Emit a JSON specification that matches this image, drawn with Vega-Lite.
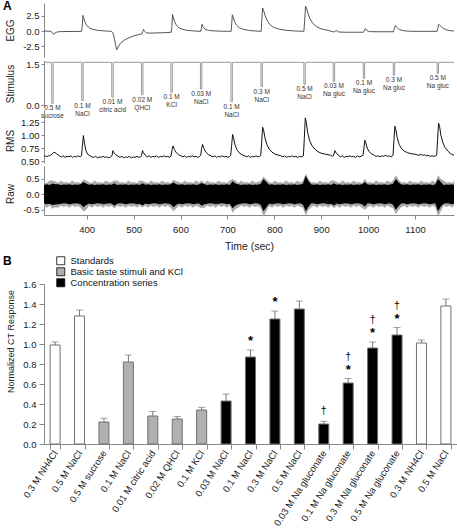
{
"$schema": "https://vega.github.io/schema/vega-lite/v6.json",
"background": "white",
"padding": {"left": 3, "top": 0, "right": 0, "bottom": 0},
"config": {
  "font": "Liberation Sans",
  "view": {"stroke": null},
  "axis": {"grid": false, "domainColor": "#888", "tickColor": "#888", "labelColor": "#222", "titleColor": "#222", "titleFontWeight": "normal", "labelFont": "Liberation Sans", "titleFont": "Liberation Sans"},
  "title": {"font": "Liberation Sans", "color": "#000"}
},
"datasets": {
  "egg": [{"t":309,"v":0},{"t":318,"v":-0.02},{"t":324,"v":-0.05},{"t":327,"v":-0.3},{"t":329,"v":-0.55},{"t":332,"v":-0.35},{"t":337,"v":-0.15},{"t":345,"v":-0.1},{"t":360,"v":-0.08},{"t":380,"v":-0.08},{"t":389,"v":-0.05},{"t":390.5,"v":0.8},{"t":392,"v":2.55},{"t":393.5,"v":2.2},{"t":396,"v":1.5},{"t":400,"v":0.9},{"t":406,"v":0.5},{"t":414,"v":0.25},{"t":425,"v":0.1},{"t":440,"v":0},{"t":453,"v":-0.05},{"t":456,"v":-0.3},{"t":459,"v":-1.2},{"t":462,"v":-2.4},{"t":464,"v":-3.05},{"t":467,"v":-2.6},{"t":472,"v":-2.0},{"t":480,"v":-1.5},{"t":490,"v":-1.1},{"t":500,"v":-0.8},{"t":510,"v":-0.6},{"t":518,"v":-0.45},{"t":519.5,"v":-0.1},{"t":521,"v":0.27},{"t":523,"v":0},{"t":527,"v":-0.3},{"t":535,"v":-0.35},{"t":550,"v":-0.3},{"t":565,"v":-0.28},{"t":580,"v":-0.2},{"t":581.5,"v":0.6},{"t":583,"v":2.7},{"t":584.5,"v":2.3},{"t":587,"v":1.6},{"t":591,"v":0.95},{"t":597,"v":0.5},{"t":605,"v":0.25},{"t":615,"v":0.1},{"t":630,"v":0},{"t":643,"v":-0.05},{"t":644.5,"v":0.4},{"t":646,"v":1.1},{"t":648,"v":0.7},{"t":652,"v":0.3},{"t":660,"v":0.1},{"t":675,"v":0},{"t":700,"v":-0.05},{"t":708,"v":-0.05},{"t":709,"v":1.0},{"t":710.5,"v":2.65},{"t":712,"v":2.3},{"t":715,"v":1.6},{"t":719,"v":1.0},{"t":725,"v":0.55},{"t":733,"v":0.3},{"t":745,"v":0.1},{"t":760,"v":0},{"t":772,"v":-0.05},{"t":773,"v":1.5},{"t":775,"v":3.75},{"t":777,"v":3.4},{"t":780,"v":2.6},{"t":784,"v":1.8},{"t":790,"v":1.1},{"t":798,"v":0.6},{"t":810,"v":0.3},{"t":825,"v":0.12},{"t":845,"v":0},{"t":863,"v":-0.05},{"t":864.5,"v":1.5},{"t":866.5,"v":4.07},{"t":868.5,"v":3.7},{"t":872,"v":2.8},{"t":876,"v":2.0},{"t":882,"v":1.25},{"t":890,"v":0.7},{"t":900,"v":0.35},{"t":915,"v":0.1},{"t":926,"v":-0.15},{"t":929,"v":-0.1},{"t":932,"v":0.1},{"t":936,"v":-0.15},{"t":950,"v":-0.2},{"t":975,"v":-0.2},{"t":990,"v":-0.2},{"t":991.5,"v":0.0},{"t":994,"v":0.4},{"t":997,"v":0.1},{"t":1003,"v":-0.1},{"t":1020,"v":-0.12},{"t":1040,"v":-0.12},{"t":1054,"v":-0.12},{"t":1055.5,"v":0.3},{"t":1058,"v":0.9},{"t":1061,"v":0.6},{"t":1066,"v":0.25},{"t":1075,"v":0.05},{"t":1090,"v":-0.05},{"t":1130,"v":-0.05},{"t":1147,"v":-0.05},{"t":1148.5,"v":0.4},{"t":1150.5,"v":1.1},{"t":1153,"v":0.9},{"t":1158,"v":0.55},{"t":1165,"v":0.25},{"t":1175,"v":0.05},{"t":1183,"v":0}],
  "stim": [{"i":0,"t":309,"v":1.57},
    {"i":1,"t":325.5,"v":1.57},{"i":2,"t":325.5,"v":0.08},{"i":3,"t":328.5,"v":0.08},{"i":4,"t":328.5,"v":1.57},
    {"i":5,"t":389.5,"v":1.57},{"i":6,"t":389.5,"v":0.18},{"i":7,"t":392.5,"v":0.18},{"i":8,"t":392.5,"v":1.57},
    {"i":9,"t":453.5,"v":1.57},{"i":10,"t":453.5,"v":0.30},{"i":11,"t":456.5,"v":0.30},{"i":12,"t":456.5,"v":1.57},
    {"i":13,"t":517,"v":1.57},{"i":14,"t":517,"v":0.39},{"i":15,"t":520,"v":0.39},{"i":16,"t":520,"v":1.57},
    {"i":17,"t":579.5,"v":1.57},{"i":18,"t":579.5,"v":0.48},{"i":19,"t":582.5,"v":0.48},{"i":20,"t":582.5,"v":1.57},
    {"i":21,"t":642.5,"v":1.57},{"i":22,"t":642.5,"v":0.60},{"i":23,"t":645.5,"v":0.60},{"i":24,"t":645.5,"v":1.57},
    {"i":25,"t":707.5,"v":1.57},{"i":26,"t":707.5,"v":0.14},{"i":27,"t":710.5,"v":0.14},{"i":28,"t":710.5,"v":1.57},
    {"i":29,"t":771.5,"v":1.57},{"i":30,"t":771.5,"v":0.69},{"i":31,"t":774.5,"v":0.69},{"i":32,"t":774.5,"v":1.57},
    {"i":33,"t":863,"v":1.57},{"i":34,"t":863,"v":0.77},{"i":35,"t":866,"v":0.77},{"i":36,"t":866,"v":1.57},
    {"i":37,"t":925.5,"v":1.57},{"i":38,"t":925.5,"v":0.88},{"i":39,"t":928.5,"v":0.88},{"i":40,"t":928.5,"v":1.57},
    {"i":41,"t":989.5,"v":1.57},{"i":42,"t":989.5,"v":0.99},{"i":43,"t":992.5,"v":0.99},{"i":44,"t":992.5,"v":1.57},
    {"i":45,"t":1053.5,"v":1.57},{"i":46,"t":1053.5,"v":1.10},{"i":47,"t":1056.5,"v":1.10},{"i":48,"t":1056.5,"v":1.57},
    {"i":49,"t":1147,"v":1.57},{"i":50,"t":1147,"v":1.17},{"i":51,"t":1150,"v":1.17},{"i":52,"t":1150,"v":1.57},
    {"i":53,"t":1183,"v":1.57}],
  "pulses": [{"t":327,"d":0.08,"lab":"0.5 M\nsucrose"},{"t":391,"d":0.18,"lab":"0.1 M\nNaCl"},{"t":455,"d":0.30,"lab":"0.01 M\ncitric acid"},{"t":518.5,"d":0.39,"lab":"0.02 M\nQHCl"},{"t":581,"d":0.48,"lab":"0.1 M\nKCl"},{"t":644,"d":0.60,"lab":"0.03 M\nNaCl"},{"t":709,"d":0.14,"lab":"0.1 M\nNaCl"},{"t":773,"d":0.69,"lab":"0.3 M\nNaCl"},{"t":864.5,"d":0.77,"lab":"0.5 M\nNaCl"},{"t":927,"d":0.88,"lab":"0.03 M\nNa gluc"},{"t":991,"d":0.99,"lab":"0.1 M\nNa gluc"},{"t":1055,"d":1.10,"lab":"0.3 M\nNa gluc"},{"t":1148.5,"d":1.17,"lab":"0.5 M\nNa gluc"}],
  "rms": [{"t":309,"v":0.59},{"t":312,"v":0.6},{"t":315,"v":0.58},{"t":318,"v":0.6},{"t":321,"v":0.6},{"t":324,"v":0.62},{"t":327,"v":0.64},{"t":330,"v":0.67},{"t":333,"v":0.66},{"t":336,"v":0.64},{"t":339,"v":0.62},{"t":342,"v":0.6},{"t":346,"v":0.58},{"t":350,"v":0.6},{"t":354,"v":0.57},{"t":358,"v":0.59},{"t":362,"v":0.58},{"t":366,"v":0.6},{"t":370,"v":0.57},{"t":374,"v":0.59},{"t":378,"v":0.58},{"t":382,"v":0.6},{"t":386,"v":0.58},{"t":389,"v":0.6},{"t":391,"v":0.8},{"t":393,"v":0.99},{"t":395,"v":0.86},{"t":398,"v":0.71},{"t":402,"v":0.63},{"t":407,"v":0.6},{"t":411,"v":0.58},{"t":415,"v":0.57},{"t":419,"v":0.59},{"t":423,"v":0.56},{"t":427,"v":0.58},{"t":431,"v":0.57},{"t":435,"v":0.59},{"t":439,"v":0.57},{"t":443,"v":0.58},{"t":447,"v":0.56},{"t":451,"v":0.58},{"t":454,"v":0.6},{"t":456,"v":0.7},{"t":458,"v":0.66},{"t":462,"v":0.62},{"t":467,"v":0.59},{"t":471,"v":0.57},{"t":475,"v":0.59},{"t":479,"v":0.56},{"t":483,"v":0.58},{"t":487,"v":0.57},{"t":491,"v":0.59},{"t":495,"v":0.56},{"t":499,"v":0.58},{"t":503,"v":0.57},{"t":507,"v":0.59},{"t":511,"v":0.57},{"t":515,"v":0.58},{"t":517,"v":0.6},{"t":519,"v":0.7},{"t":521,"v":0.66},{"t":525,"v":0.61},{"t":529,"v":0.58},{"t":533,"v":0.6},{"t":537,"v":0.57},{"t":541,"v":0.59},{"t":545,"v":0.58},{"t":549,"v":0.6},{"t":553,"v":0.57},{"t":557,"v":0.59},{"t":561,"v":0.58},{"t":565,"v":0.6},{"t":569,"v":0.58},{"t":573,"v":0.59},{"t":577,"v":0.57},{"t":580,"v":0.6},{"t":582,"v":0.72},{"t":584,"v":0.79},{"t":587,"v":0.72},{"t":591,"v":0.66},{"t":596,"v":0.62},{"t":601,"v":0.6},{"t":605,"v":0.58},{"t":609,"v":0.6},{"t":613,"v":0.57},{"t":617,"v":0.59},{"t":621,"v":0.58},{"t":625,"v":0.6},{"t":629,"v":0.58},{"t":633,"v":0.59},{"t":637,"v":0.57},{"t":641,"v":0.59},{"t":643,"v":0.61},{"t":645,"v":0.74},{"t":647,"v":0.82},{"t":650,"v":0.74},{"t":654,"v":0.67},{"t":660,"v":0.62},{"t":665,"v":0.6},{"t":669,"v":0.58},{"t":673,"v":0.6},{"t":677,"v":0.57},{"t":681,"v":0.59},{"t":685,"v":0.58},{"t":689,"v":0.6},{"t":693,"v":0.58},{"t":697,"v":0.59},{"t":701,"v":0.57},{"t":705,"v":0.59},{"t":707,"v":0.61},{"t":709,"v":0.8},{"t":711,"v":1.01},{"t":713,"v":0.95},{"t":716,"v":0.82},{"t":720,"v":0.72},{"t":725,"v":0.66},{"t":731,"v":0.62},{"t":737,"v":0.6},{"t":741,"v":0.58},{"t":745,"v":0.6},{"t":749,"v":0.57},{"t":753,"v":0.59},{"t":757,"v":0.58},{"t":761,"v":0.6},{"t":765,"v":0.58},{"t":769,"v":0.59},{"t":771,"v":0.61},{"t":773,"v":0.85},{"t":775,"v":1.15},{"t":777,"v":1.1},{"t":780,"v":0.95},{"t":784,"v":0.82},{"t":789,"v":0.73},{"t":795,"v":0.67},{"t":802,"v":0.63},{"t":810,"v":0.61},{"t":814,"v":0.6},{"t":818,"v":0.58},{"t":822,"v":0.6},{"t":826,"v":0.57},{"t":830,"v":0.59},{"t":834,"v":0.58},{"t":838,"v":0.6},{"t":842,"v":0.58},{"t":846,"v":0.59},{"t":850,"v":0.57},{"t":854,"v":0.59},{"t":858,"v":0.58},{"t":862,"v":0.6},{"t":864,"v":0.95},{"t":866,"v":1.33},{"t":868,"v":1.25},{"t":871,"v":1.05},{"t":875,"v":0.9},{"t":880,"v":0.8},{"t":886,"v":0.73},{"t":893,"v":0.68},{"t":900,"v":0.65},{"t":910,"v":0.63},{"t":920,"v":0.61},{"t":924,"v":0.59},{"t":926,"v":0.6},{"t":929,"v":0.7},{"t":932,"v":0.65},{"t":937,"v":0.61},{"t":941,"v":0.58},{"t":945,"v":0.6},{"t":949,"v":0.57},{"t":953,"v":0.59},{"t":957,"v":0.58},{"t":961,"v":0.6},{"t":965,"v":0.58},{"t":969,"v":0.59},{"t":973,"v":0.57},{"t":977,"v":0.6},{"t":981,"v":0.58},{"t":985,"v":0.59},{"t":989,"v":0.61},{"t":991,"v":0.75},{"t":993,"v":0.9},{"t":995,"v":0.85},{"t":998,"v":0.75},{"t":1002,"v":0.68},{"t":1007,"v":0.64},{"t":1013,"v":0.61},{"t":1017,"v":0.59},{"t":1021,"v":0.6},{"t":1025,"v":0.58},{"t":1029,"v":0.6},{"t":1033,"v":0.59},{"t":1037,"v":0.61},{"t":1041,"v":0.59},{"t":1045,"v":0.6},{"t":1049,"v":0.58},{"t":1053,"v":0.61},{"t":1055,"v":0.9},{"t":1057,"v":1.17},{"t":1059,"v":1.1},{"t":1062,"v":0.95},{"t":1066,"v":0.82},{"t":1071,"v":0.74},{"t":1077,"v":0.69},{"t":1084,"v":0.66},{"t":1092,"v":0.64},{"t":1100,"v":0.63},{"t":1104,"v":0.62},{"t":1108,"v":0.61},{"t":1112,"v":0.63},{"t":1116,"v":0.61},{"t":1120,"v":0.62},{"t":1124,"v":0.6},{"t":1128,"v":0.61},{"t":1132,"v":0.59},{"t":1136,"v":0.6},{"t":1140,"v":0.59},{"t":1144,"v":0.6},{"t":1146,"v":0.61},{"t":1148,"v":0.9},{"t":1150,"v":1.23},{"t":1152,"v":1.18},{"t":1155,"v":1.0},{"t":1159,"v":0.86},{"t":1164,"v":0.76},{"t":1170,"v":0.69},{"t":1176,"v":0.64},{"t":1183,"v":0.61}],
  "raw": [
    {"t":309,"lo":-0.3,"hi":0.31,"lo2":-0.37,"hi2":0.4},{"t":315,"lo":-0.32,"hi":0.33,"lo2":-0.44,"hi2":0.37},{"t":321,"lo":-0.31,"hi":0.3,"lo2":-0.36,"hi2":0.45},{"t":327,"lo":-0.35,"hi":0.35,"lo2":-0.47,"hi2":0.45},{"t":333,"lo":-0.33,"hi":0.33,"lo2":-0.42,"hi2":0.42},{"t":339,"lo":-0.32,"hi":0.33,"lo2":-0.44,"hi2":0.37},{"t":345,"lo":-0.31,"hi":0.3,"lo2":-0.36,"hi2":0.45},{"t":351,"lo":-0.29,"hi":0.32,"lo2":-0.41,"hi2":0.38},{"t":357,"lo":-0.3,"hi":0.31,"lo2":-0.37,"hi2":0.4},{"t":363,"lo":-0.32,"hi":0.33,"lo2":-0.44,"hi2":0.37},{"t":369,"lo":-0.31,"hi":0.3,"lo2":-0.36,"hi2":0.45},{"t":375,"lo":-0.29,"hi":0.32,"lo2":-0.41,"hi2":0.38},{"t":381,"lo":-0.3,"hi":0.31,"lo2":-0.37,"hi2":0.4},{"t":387,"lo":-0.32,"hi":0.33,"lo2":-0.44,"hi2":0.37},
    {"t":393,"lo":-0.42,"hi":0.4,"lo2":-0.56,"hi2":0.48},{"t":399,"lo":-0.35,"hi":0.35,"lo2":-0.5,"hi2":0.45},{"t":405,"lo":-0.3,"hi":0.31,"lo2":-0.37,"hi2":0.4},{"t":411,"lo":-0.32,"hi":0.33,"lo2":-0.44,"hi2":0.37},{"t":417,"lo":-0.31,"hi":0.3,"lo2":-0.36,"hi2":0.45},{"t":423,"lo":-0.29,"hi":0.32,"lo2":-0.41,"hi2":0.38},{"t":429,"lo":-0.3,"hi":0.31,"lo2":-0.37,"hi2":0.4},{"t":435,"lo":-0.32,"hi":0.33,"lo2":-0.44,"hi2":0.37},{"t":441,"lo":-0.31,"hi":0.3,"lo2":-0.36,"hi2":0.45},{"t":447,"lo":-0.29,"hi":0.32,"lo2":-0.41,"hi2":0.38},{"t":453,"lo":-0.3,"hi":0.31,"lo2":-0.37,"hi2":0.4},
    {"t":459,"lo":-0.37,"hi":0.36,"lo2":-0.46,"hi2":0.45},{"t":465,"lo":-0.31,"hi":0.3,"lo2":-0.36,"hi2":0.45},{"t":471,"lo":-0.29,"hi":0.32,"lo2":-0.41,"hi2":0.38},{"t":477,"lo":-0.3,"hi":0.31,"lo2":-0.37,"hi2":0.4},{"t":483,"lo":-0.32,"hi":0.33,"lo2":-0.44,"hi2":0.37},{"t":489,"lo":-0.31,"hi":0.3,"lo2":-0.36,"hi2":0.45},{"t":495,"lo":-0.29,"hi":0.32,"lo2":-0.41,"hi2":0.38},{"t":501,"lo":-0.3,"hi":0.31,"lo2":-0.37,"hi2":0.4},{"t":507,"lo":-0.32,"hi":0.33,"lo2":-0.44,"hi2":0.37},{"t":513,"lo":-0.31,"hi":0.3,"lo2":-0.36,"hi2":0.45},
    {"t":519,"lo":-0.36,"hi":0.36,"lo2":-0.43,"hi2":0.44},{"t":525,"lo":-0.3,"hi":0.31,"lo2":-0.37,"hi2":0.4},{"t":531,"lo":-0.32,"hi":0.33,"lo2":-0.44,"hi2":0.37},{"t":537,"lo":-0.31,"hi":0.3,"lo2":-0.36,"hi2":0.45},{"t":543,"lo":-0.29,"hi":0.32,"lo2":-0.41,"hi2":0.38},{"t":549,"lo":-0.3,"hi":0.31,"lo2":-0.37,"hi2":0.4},{"t":555,"lo":-0.32,"hi":0.33,"lo2":-0.44,"hi2":0.37},{"t":561,"lo":-0.31,"hi":0.3,"lo2":-0.36,"hi2":0.45},{"t":567,"lo":-0.29,"hi":0.32,"lo2":-0.41,"hi2":0.38},{"t":573,"lo":-0.3,"hi":0.31,"lo2":-0.37,"hi2":0.4},{"t":579,"lo":-0.32,"hi":0.33,"lo2":-0.44,"hi2":0.37},
    {"t":585,"lo":-0.42,"hi":0.38,"lo2":-0.55,"hi2":0.47},{"t":591,"lo":-0.34,"hi":0.33,"lo2":-0.45,"hi2":0.42},{"t":597,"lo":-0.3,"hi":0.31,"lo2":-0.37,"hi2":0.4},{"t":603,"lo":-0.32,"hi":0.33,"lo2":-0.44,"hi2":0.37},{"t":609,"lo":-0.31,"hi":0.3,"lo2":-0.36,"hi2":0.45},{"t":615,"lo":-0.29,"hi":0.32,"lo2":-0.41,"hi2":0.38},{"t":621,"lo":-0.3,"hi":0.31,"lo2":-0.37,"hi2":0.4},{"t":627,"lo":-0.32,"hi":0.33,"lo2":-0.44,"hi2":0.37},{"t":633,"lo":-0.31,"hi":0.3,"lo2":-0.36,"hi2":0.45},{"t":639,"lo":-0.29,"hi":0.32,"lo2":-0.41,"hi2":0.38},
    {"t":645,"lo":-0.37,"hi":0.37,"lo2":-0.45,"hi2":0.45},{"t":651,"lo":-0.32,"hi":0.33,"lo2":-0.44,"hi2":0.37},{"t":657,"lo":-0.31,"hi":0.3,"lo2":-0.36,"hi2":0.45},{"t":663,"lo":-0.29,"hi":0.32,"lo2":-0.41,"hi2":0.38},{"t":669,"lo":-0.3,"hi":0.31,"lo2":-0.37,"hi2":0.4},{"t":675,"lo":-0.32,"hi":0.33,"lo2":-0.44,"hi2":0.37},{"t":681,"lo":-0.31,"hi":0.3,"lo2":-0.36,"hi2":0.45},{"t":687,"lo":-0.29,"hi":0.32,"lo2":-0.41,"hi2":0.38},{"t":693,"lo":-0.3,"hi":0.31,"lo2":-0.37,"hi2":0.4},{"t":699,"lo":-0.32,"hi":0.33,"lo2":-0.44,"hi2":0.37},{"t":705,"lo":-0.31,"hi":0.3,"lo2":-0.36,"hi2":0.45},
    {"t":711,"lo":-0.45,"hi":0.42,"lo2":-0.6,"hi2":0.5},{"t":717,"lo":-0.36,"hi":0.35,"lo2":-0.48,"hi2":0.45},{"t":723,"lo":-0.32,"hi":0.33,"lo2":-0.44,"hi2":0.37},{"t":729,"lo":-0.31,"hi":0.3,"lo2":-0.36,"hi2":0.45},{"t":735,"lo":-0.29,"hi":0.32,"lo2":-0.41,"hi2":0.38},{"t":741,"lo":-0.3,"hi":0.31,"lo2":-0.37,"hi2":0.4},{"t":747,"lo":-0.32,"hi":0.33,"lo2":-0.44,"hi2":0.37},{"t":753,"lo":-0.31,"hi":0.3,"lo2":-0.36,"hi2":0.45},{"t":759,"lo":-0.29,"hi":0.32,"lo2":-0.41,"hi2":0.38},{"t":765,"lo":-0.3,"hi":0.31,"lo2":-0.37,"hi2":0.4},{"t":771,"lo":-0.34,"hi":0.34,"lo2":-0.45,"hi2":0.44},
    {"t":777,"lo":-0.55,"hi":0.5,"lo2":-0.74,"hi2":0.58},{"t":783,"lo":-0.42,"hi":0.4,"lo2":-0.55,"hi2":0.48},{"t":789,"lo":-0.3,"hi":0.31,"lo2":-0.37,"hi2":0.4},{"t":795,"lo":-0.32,"hi":0.33,"lo2":-0.44,"hi2":0.37},{"t":801,"lo":-0.31,"hi":0.3,"lo2":-0.36,"hi2":0.45},{"t":807,"lo":-0.29,"hi":0.32,"lo2":-0.41,"hi2":0.38},{"t":813,"lo":-0.3,"hi":0.31,"lo2":-0.37,"hi2":0.4},{"t":819,"lo":-0.32,"hi":0.33,"lo2":-0.44,"hi2":0.37},{"t":825,"lo":-0.31,"hi":0.3,"lo2":-0.36,"hi2":0.45},{"t":831,"lo":-0.29,"hi":0.32,"lo2":-0.41,"hi2":0.38},{"t":837,"lo":-0.3,"hi":0.31,"lo2":-0.37,"hi2":0.4},{"t":843,"lo":-0.32,"hi":0.33,"lo2":-0.44,"hi2":0.37},{"t":849,"lo":-0.31,"hi":0.3,"lo2":-0.36,"hi2":0.45},{"t":855,"lo":-0.29,"hi":0.32,"lo2":-0.41,"hi2":0.38},{"t":861,"lo":-0.34,"hi":0.34,"lo2":-0.44,"hi2":0.44},
    {"t":867,"lo":-0.55,"hi":0.6,"lo2":-0.7,"hi2":0.67},{"t":873,"lo":-0.4,"hi":0.42,"lo2":-0.5,"hi2":0.5},{"t":879,"lo":-0.29,"hi":0.32,"lo2":-0.41,"hi2":0.38},{"t":885,"lo":-0.3,"hi":0.31,"lo2":-0.37,"hi2":0.4},{"t":891,"lo":-0.32,"hi":0.33,"lo2":-0.44,"hi2":0.37},{"t":897,"lo":-0.31,"hi":0.3,"lo2":-0.36,"hi2":0.45},{"t":903,"lo":-0.29,"hi":0.32,"lo2":-0.41,"hi2":0.38},{"t":909,"lo":-0.3,"hi":0.31,"lo2":-0.37,"hi2":0.4},{"t":915,"lo":-0.32,"hi":0.33,"lo2":-0.44,"hi2":0.37},{"t":921,"lo":-0.31,"hi":0.3,"lo2":-0.36,"hi2":0.45},
    {"t":927,"lo":-0.36,"hi":0.36,"lo2":-0.45,"hi2":0.45},{"t":933,"lo":-0.3,"hi":0.31,"lo2":-0.37,"hi2":0.4},{"t":939,"lo":-0.32,"hi":0.33,"lo2":-0.44,"hi2":0.37},{"t":945,"lo":-0.31,"hi":0.3,"lo2":-0.36,"hi2":0.45},{"t":951,"lo":-0.29,"hi":0.32,"lo2":-0.41,"hi2":0.38},{"t":957,"lo":-0.3,"hi":0.31,"lo2":-0.37,"hi2":0.4},{"t":963,"lo":-0.32,"hi":0.33,"lo2":-0.44,"hi2":0.37},{"t":969,"lo":-0.31,"hi":0.3,"lo2":-0.36,"hi2":0.45},{"t":975,"lo":-0.29,"hi":0.32,"lo2":-0.41,"hi2":0.38},{"t":981,"lo":-0.3,"hi":0.31,"lo2":-0.37,"hi2":0.4},{"t":987,"lo":-0.32,"hi":0.33,"lo2":-0.44,"hi2":0.37},
    {"t":993,"lo":-0.4,"hi":0.4,"lo2":-0.5,"hi2":0.5},{"t":999,"lo":-0.29,"hi":0.32,"lo2":-0.41,"hi2":0.38},{"t":1005,"lo":-0.3,"hi":0.31,"lo2":-0.37,"hi2":0.4},{"t":1011,"lo":-0.32,"hi":0.33,"lo2":-0.44,"hi2":0.37},{"t":1017,"lo":-0.31,"hi":0.3,"lo2":-0.36,"hi2":0.45},{"t":1023,"lo":-0.29,"hi":0.32,"lo2":-0.41,"hi2":0.38},{"t":1029,"lo":-0.3,"hi":0.31,"lo2":-0.37,"hi2":0.4},{"t":1035,"lo":-0.32,"hi":0.33,"lo2":-0.44,"hi2":0.37},{"t":1041,"lo":-0.31,"hi":0.3,"lo2":-0.36,"hi2":0.45},{"t":1047,"lo":-0.29,"hi":0.32,"lo2":-0.41,"hi2":0.38},{"t":1053,"lo":-0.34,"hi":0.34,"lo2":-0.45,"hi2":0.44},
    {"t":1059,"lo":-0.5,"hi":0.5,"lo2":-0.65,"hi2":0.62},{"t":1065,"lo":-0.38,"hi":0.38,"lo2":-0.5,"hi2":0.47},{"t":1071,"lo":-0.29,"hi":0.32,"lo2":-0.41,"hi2":0.38},{"t":1077,"lo":-0.3,"hi":0.31,"lo2":-0.37,"hi2":0.4},{"t":1083,"lo":-0.32,"hi":0.33,"lo2":-0.44,"hi2":0.37},{"t":1089,"lo":-0.31,"hi":0.3,"lo2":-0.36,"hi2":0.45},{"t":1095,"lo":-0.29,"hi":0.32,"lo2":-0.41,"hi2":0.38},{"t":1101,"lo":-0.3,"hi":0.31,"lo2":-0.37,"hi2":0.4},{"t":1107,"lo":-0.32,"hi":0.33,"lo2":-0.44,"hi2":0.37},{"t":1113,"lo":-0.31,"hi":0.3,"lo2":-0.36,"hi2":0.45},{"t":1119,"lo":-0.29,"hi":0.32,"lo2":-0.41,"hi2":0.38},{"t":1125,"lo":-0.3,"hi":0.31,"lo2":-0.37,"hi2":0.4},{"t":1131,"lo":-0.32,"hi":0.33,"lo2":-0.44,"hi2":0.37},{"t":1137,"lo":-0.31,"hi":0.3,"lo2":-0.36,"hi2":0.45},{"t":1143,"lo":-0.29,"hi":0.32,"lo2":-0.41,"hi2":0.38},
    {"t":1149,"lo":-0.55,"hi":0.5,"lo2":-0.72,"hi2":0.62},{"t":1155,"lo":-0.4,"hi":0.4,"lo2":-0.55,"hi2":0.5},{"t":1161,"lo":-0.31,"hi":0.3,"lo2":-0.36,"hi2":0.45},{"t":1167,"lo":-0.29,"hi":0.32,"lo2":-0.41,"hi2":0.38},{"t":1173,"lo":-0.3,"hi":0.31,"lo2":-0.37,"hi2":0.4},{"t":1179,"lo":-0.32,"hi":0.33,"lo2":-0.44,"hi2":0.37},{"t":1183,"lo":-0.31,"hi":0.3,"lo2":-0.36,"hi2":0.45}],
  "bars": [
    {"k":"01|0.3 M NH4Cl","g":"Standards","v":0.99,"hi":1.02,"star":"","dag":""},
    {"k":"02|0.5 M NaCl","g":"Standards","v":1.28,"hi":1.34,"star":"","dag":""},
    {"k":"03|0.5 M sucrose","g":"Basic taste stimuli and KCl","v":0.22,"hi":0.257,"star":"","dag":""},
    {"k":"04|0.1 M NaCl","g":"Basic taste stimuli and KCl","v":0.82,"hi":0.89,"star":"","dag":""},
    {"k":"05|0.01 M citric acid","g":"Basic taste stimuli and KCl","v":0.28,"hi":0.325,"star":"","dag":""},
    {"k":"06|0.02 M QHCl","g":"Basic taste stimuli and KCl","v":0.25,"hi":0.275,"star":"","dag":""},
    {"k":"07|0.1 M KCl","g":"Basic taste stimuli and KCl","v":0.34,"hi":0.366,"star":"","dag":""},
    {"k":"08|0.03 M NaCl","g":"Concentration series","v":0.43,"hi":0.5,"star":"","dag":""},
    {"k":"09|0.1 M NaCl","g":"Concentration series","v":0.87,"hi":0.94,"star":"*","dag":""},
    {"k":"10|0.3 M NaCl","g":"Concentration series","v":1.25,"hi":1.33,"star":"*","dag":""},
    {"k":"11|0.5 M NaCl","g":"Concentration series","v":1.35,"hi":1.43,"star":"","dag":""},
    {"k":"12|0.03 M Na gluconate","g":"Concentration series","v":0.2,"hi":0.227,"star":"","dag":"†"},
    {"k":"13|0.1 M Na gluconate","g":"Concentration series","v":0.61,"hi":0.655,"star":"*","dag":"†"},
    {"k":"14|0.3 M Na gluconate","g":"Concentration series","v":0.96,"hi":1.02,"star":"*","dag":"†"},
    {"k":"15|0.5 M Na gluconate","g":"Concentration series","v":1.09,"hi":1.165,"star":"*","dag":"†"},
    {"k":"16|0.3 M NH4Cl","g":"Standards","v":1.01,"hi":1.04,"star":"","dag":""},
    {"k":"17|0.5 M NaCl","g":"Standards","v":1.38,"hi":1.45,"star":"","dag":""}
  ]
},
"spacing": 27,
"vconcat": [
  {
    "title": {"text": "A", "anchor": "start", "frame": "group", "dx": -41, "offset": -10, "fontSize": 12, "fontWeight": "bold"},
    "bounds": "flush",
    "spacing": 3,
    "vconcat": [
      {
        "width": 410, "height": 54,
        "data": {"name": "egg"},
        "mark": {"type": "line", "color": "#555", "strokeWidth": 1},
        "encoding": {
          "x": {"field": "t", "type": "quantitative", "scale": {"domain": [309, 1183], "nice": false, "zero": false}, "axis": null},
          "y": {"field": "v", "type": "quantitative", "scale": {"domain": [-4.23, 4.56], "nice": false, "zero": false},
                "axis": {"values": [-2.5, 0, 2.5], "format": ".1f", "labelExpr": "replace(datum.label, '\u2212', '-')", "title": "EGG", "titleX": -29, "titleY": 27, "titleAngle": -90, "titleAlign": "center", "titleBaseline": "bottom", "labelFontSize": 9.5, "titleFontSize": 10, "tickSize": 3, "labelPadding": 2}}
        }
      },
      {
        "width": 410, "height": 47,
        "layer": [
          {
            "data": {"name": "stim"},
            "mark": {"type": "line", "color": "#999", "strokeWidth": 1},
            "encoding": {
              "x": {"field": "t", "type": "quantitative", "scale": {"domain": [309, 1183], "nice": false, "zero": false}, "axis": null},
              "y": {"field": "v", "type": "quantitative", "scale": {"domain": [-0.055, 1.655], "nice": false, "zero": false},
                    "axis": {"values": [0, 0.5, 1, 1.5], "format": ".1f", "title": "Stimulus", "titleX": -29, "titleY": 23.5, "titleAngle": -90, "titleAlign": "center", "titleBaseline": "bottom", "labelFontSize": 9.5, "titleFontSize": 10, "tickSize": 3, "labelPadding": 2}},
              "order": {"field": "i", "type": "quantitative"}
            }
          },
          {
            "data": {"name": "pulses"},
            "mark": {"type": "text", "fontSize": 6.5, "lineBreak": "\n", "lineHeight": 8, "baseline": "top", "align": "center", "dy": 2, "color": "#333"},
            "encoding": {
              "x": {"field": "t", "type": "quantitative"},
              "y": {"field": "d", "type": "quantitative"},
              "text": {"field": "lab"}
            }
          }
        ]
      },
      {
        "width": 410, "height": 53,
        "data": {"name": "rms"},
        "mark": {"type": "line", "color": "#111", "strokeWidth": 1},
        "encoding": {
          "x": {"field": "t", "type": "quantitative", "scale": {"domain": [309, 1183], "nice": false, "zero": false}, "axis": null},
          "y": {"field": "v", "type": "quantitative", "scale": {"domain": [0.462, 1.481], "nice": false, "zero": false},
                "axis": {"values": [0.5, 0.75, 1, 1.25], "format": ".2f", "title": "RMS", "titleX": -29, "titleY": 30.5, "titleAngle": -90, "titleAlign": "center", "titleBaseline": "bottom", "labelFontSize": 9.5, "titleFontSize": 10, "tickSize": 3, "labelPadding": 2}}
        }
      },
      {
        "width": 410, "height": 49,
        "data": {"name": "raw"},
        "encoding": {
          "x": {"field": "t", "type": "quantitative", "scale": {"domain": [309, 1183], "nice": false, "zero": false},
                "axis": {"values": [400, 500, 600, 700, 800, 900, 1000, 1100], "format": "d", "title": "Time (sec)", "labelFontSize": 9.5, "titleFontSize": 10.5, "tickSize": 4, "labelPadding": 5, "titlePadding": 8}}
        },
        "layer": [
          {
            "mark": {"type": "area", "color": "#aaa"},
            "encoding": {
              "y": {"field": "lo2", "type": "quantitative", "scale": {"domain": [-0.672, 0.919], "nice": false, "zero": false},
                    "axis": {"values": [-0.5, 0, 0.5], "format": ".1f", "labelExpr": "replace(datum.label, '\u2212', '-')", "title": "Raw", "titleX": -29, "titleY": 27.5, "titleAngle": -90, "titleAlign": "center", "titleBaseline": "bottom", "labelFontSize": 9.5, "titleFontSize": 10, "tickSize": 3, "labelPadding": 2}},
              "y2": {"field": "hi2"}
            }
          },
          {
            "mark": {"type": "area", "color": "#000"},
            "encoding": {
              "y": {"field": "lo", "type": "quantitative",
                    "axis": {"values": [-0.5, 0, 0.5], "format": ".1f", "labelExpr": "replace(datum.label, '\u2212', '-')", "title": "Raw", "titleX": -29, "titleY": 27.5, "titleAngle": -90, "titleAlign": "center", "titleBaseline": "bottom", "labelFontSize": 9.5, "titleFontSize": 10, "tickSize": 3, "labelPadding": 2}},
              "y2": {"field": "hi"}
            }
          }
        ]
      }
    ]
  },
  {
    "width": 413, "height": 160,
    "data": {"name": "bars"},
    "encoding": {
      "x": {"field": "k", "type": "nominal", "scale": {"paddingInner": 0.59, "paddingOuter": 0.25},
            "axis": {"title": null, "labelExpr": "split(datum.value, '|')[1]", "labelAngle": -57, "labelAlign": "right", "labelBaseline": "middle", "labelFontSize": 9.5, "labelColor": "#222", "tickBand": "extent", "tickSize": 5, "labelPadding": 2}}
    },
    "layer": [
      {
        "mark": {"type": "bar", "stroke": "#707070", "strokeWidth": 1},
        "encoding": {
          "y": {"field": "v", "type": "quantitative", "scale": {"domain": [0, 1.6], "nice": false},
                "axis": {"values": [0, 0.2, 0.4, 0.6, 0.8, 1.0, 1.2, 1.4, 1.6], "format": ".1f", "labelOverlap": false, "title": "Normalized CT Response", "titleX": -29, "titleY": 57, "titleAngle": -90, "titleAlign": "center", "titleBaseline": "bottom", "labelFontSize": 9.5, "titleFontSize": 9, "tickSize": 5, "labelPadding": 3}},
          "color": {"field": "g", "type": "nominal",
                    "scale": {"domain": ["Standards", "Basic taste stimuli and KCl", "Concentration series"], "range": ["#ffffff", "#b0b0b0", "#000000"]},
                    "legend": {"title": "B", "titleOrient": "left", "titleAnchor": "start", "titleBaseline": "top", "titleFontSize": 12, "titleFontWeight": "bold", "titleColor": "#000", "titlePadding": 44, "orient": "none", "legendX": -41, "legendY": 253, "symbolType": "square", "symbolSize": 64, "symbolStrokeColor": "#000", "symbolStrokeWidth": 0.8, "labelFontSize": 9.5, "labelColor": "#111", "rowPadding": -1.5, "labelOffset": 5}}
        }
      },
      {
        "mark": {"type": "rule", "color": "#777", "strokeWidth": 1},
        "encoding": {"y": {"field": "v", "type": "quantitative",
                "axis": {"values": [0, 0.2, 0.4, 0.6, 0.8, 1.0, 1.2, 1.4, 1.6], "format": ".1f", "labelOverlap": false, "title": "Normalized CT Response", "titleX": -29, "titleY": 57, "titleAngle": -90, "titleAlign": "center", "titleBaseline": "bottom", "labelFontSize": 9.5, "titleFontSize": 9, "tickSize": 5, "labelPadding": 3}}, "y2": {"field": "hi"}}
      },
      {
        "mark": {"type": "tick", "color": "#777", "size": 7, "thickness": 1},
        "encoding": {"y": {"field": "hi", "type": "quantitative",
                "axis": {"values": [0, 0.2, 0.4, 0.6, 0.8, 1.0, 1.2, 1.4, 1.6], "format": ".1f", "labelOverlap": false, "title": "Normalized CT Response", "titleX": -29, "titleY": 57, "titleAngle": -90, "titleAlign": "center", "titleBaseline": "bottom", "labelFontSize": 9.5, "titleFontSize": 9, "tickSize": 5, "labelPadding": 3}}}
      },
      {
        "transform": [{"filter": "datum.star != ''"}],
        "mark": {"type": "text", "fontSize": 13, "fontWeight": "bold", "baseline": "middle", "dy": -9, "fill": "#000"},
        "encoding": {"y": {"field": "hi", "type": "quantitative",
                "axis": {"values": [0, 0.2, 0.4, 0.6, 0.8, 1.0, 1.2, 1.4, 1.6], "format": ".1f", "labelOverlap": false, "title": "Normalized CT Response", "titleX": -29, "titleY": 57, "titleAngle": -90, "titleAlign": "center", "titleBaseline": "bottom", "labelFontSize": 9.5, "titleFontSize": 9, "tickSize": 5, "labelPadding": 3}}, "text": {"field": "star"}}
      },
      {
        "transform": [{"filter": "datum.dag != '' && datum.star == ''"}],
        "mark": {"type": "text", "fontSize": 10.5, "baseline": "middle", "dy": -10, "fill": "#000"},
        "encoding": {"y": {"field": "hi", "type": "quantitative",
                "axis": {"values": [0, 0.2, 0.4, 0.6, 0.8, 1.0, 1.2, 1.4, 1.6], "format": ".1f", "labelOverlap": false, "title": "Normalized CT Response", "titleX": -29, "titleY": 57, "titleAngle": -90, "titleAlign": "center", "titleBaseline": "bottom", "labelFontSize": 9.5, "titleFontSize": 9, "tickSize": 5, "labelPadding": 3}}, "text": {"field": "dag"}}
      },
      {
        "transform": [{"filter": "datum.dag != '' && datum.star != ''"}],
        "mark": {"type": "text", "fontSize": 10.5, "baseline": "middle", "dy": -22, "fill": "#000"},
        "encoding": {"y": {"field": "hi", "type": "quantitative",
                "axis": {"values": [0, 0.2, 0.4, 0.6, 0.8, 1.0, 1.2, 1.4, 1.6], "format": ".1f", "labelOverlap": false, "title": "Normalized CT Response", "titleX": -29, "titleY": 57, "titleAngle": -90, "titleAlign": "center", "titleBaseline": "bottom", "labelFontSize": 9.5, "titleFontSize": 9, "tickSize": 5, "labelPadding": 3}}, "text": {"field": "dag"}}
      }
    ]
  }
]
}
